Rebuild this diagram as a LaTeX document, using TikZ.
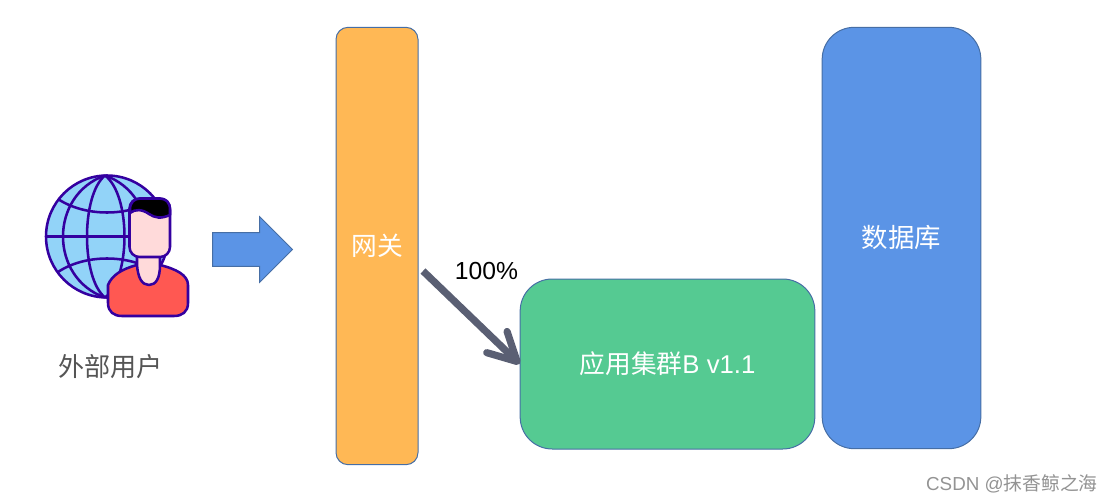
\documentclass[tikz,border=0pt]{standalone}
\usepackage{fontspec}
\setmainfont{Liberation Sans}
\newfontfamily\cjk{Noto Sans CJK SC}
\usetikzlibrary{shapes.arrows, arrows.meta, positioning}
\definecolor{gatewayorange}{RGB}{255, 184, 85}
\definecolor{appgreen}{RGB}{85, 202, 146}
\definecolor{dbblue}{RGB}{91, 148, 230}
\definecolor{edgeblue}{RGB}{70, 110, 165}
\definecolor{arrowgrey}{RGB}{90, 95, 115}
\definecolor{iconviolet}{RGB}{52, 0, 160}
\definecolor{globeblue}{RGB}{146, 211, 248}
\definecolor{skinpink}{RGB}{255, 218, 218}
\definecolor{shirtred}{RGB}{255, 88, 82}
\definecolor{labelgrey}{RGB}{85, 85, 85}
\tikzset{
    block/.style={rectangle, draw=edgeblue, text=white, line width=0.75pt, align=center, inner sep=0pt, font=\fontsize{19.3}{23}\selectfont},
    iconline/.style={draw=iconviolet, line width=1.9pt, line join=round},
    flow/.style={-{Straight Barb[round, length=21pt, width=22pt, line width=5.4pt]}, arrowgrey, line width=5.4pt}
}

\begin{document}
\begin{tikzpicture}[x=0.75pt, y=-0.75pt]
    \useasboundingbox (0,0) rectangle (1113,502);
    % blocks
    \node (gateway) [block, fill=gatewayorange, rounded corners=9pt, minimum width=61.5pt, minimum height=328pt] at (377,246) {\cjk 网关};
    \node (appb) [block, fill=appgreen, rounded corners=24pt, minimum width=221pt, minimum height=127.5pt] at (667.5,364) {{\cjk 应用集群}B v1.1};
    \node (database) [block, fill=dbblue, rounded corners=24pt, minimum width=119pt, minimum height=316pt, font=\fontsize{19.8}{23}\selectfont] at (901.5,238) {\cjk 数据库};
    % globe
    \fill[globeblue] (107,236.5) circle [radius=61];
    \draw[iconline] (105,175.5) .. controls (49,195) and (49,278) .. (105,297.5);
    \draw[iconline] (105,175.5) .. controls (81,195) and (81,278) .. (105,297.5);
    \draw[iconline] (105,175.5) .. controls (131,195) and (131,278) .. (105,297.5);
    \draw[iconline] (105,175.5) .. controls (161,195) and (161,278) .. (105,297.5);
    \draw[iconline] (46,236.5) -- (168,236.5);
    \draw[iconline] (58,199) .. controls (85,217) and (129,217) .. (156,199);
    \draw[iconline] (58,272) .. controls (85,254) and (129,254) .. (156,272);
    \draw[iconline] (107,236.5) circle [radius=61];
    % person
    \draw[iconline, fill=shirtred] (108,285) .. controls (112,275) and (122,269) .. (137,265) -- (160,265) .. controls (176,269) and (188,275) .. (188,285) -- (188,303) .. controls (188,312) and (182,316) .. (174,316) -- (122,316) .. controls (114,316) and (108,312) .. (108,303) -- cycle;
    \draw[iconline, fill=skinpink] (137,255) -- (137,265) .. controls (138,278) and (142,285) .. (149,285) .. controls (156,285) and (160,278) .. (160,265) -- (160,255) -- cycle;
    \draw[iconline, fill=skinpink, rounded corners=7.5pt] (129.5,198.5) rectangle (170,257);
    \draw[iconline, fill=black] (130,213) -- (130,210) .. controls (130,202) and (134,198.5) .. (141,198.5) -- (159,198.5) .. controls (166,198.5) and (170,202) .. (170,210) -- (170,215) .. controls (161,219) and (155,218) .. (149,214) .. controls (142,209) and (135,209) .. (130,213) -- cycle;
    \node (userlabel) [text=labelgrey, font=\fontsize{19.6}{23}\selectfont] at (110.5,367) {\cjk 外部用户};
    % arrows
    \node (inarrow) [single arrow, draw=edgeblue, fill=dbblue, line width=0.75pt, anchor=tail, inner xsep=0pt, inner ysep=12.2pt, minimum height=60pt, minimum width=49pt, single arrow head extend=12pt, single arrow tip angle=90, single arrow head indent=0pt] at (212,249.5) {};
    \coordinate (flowstart) at (423,271);
    \draw [flow] (flowstart) -- (appb.west);
    \node (percent) [font=\fontsize{18.5}{22}\selectfont] at (486.5,271) {100\%};
    \node (watermark) [text=gray!85, inner sep=0pt, font=\fontsize{14.1}{17}\selectfont, anchor=east] at (1098,484) {CSDN @{\cjk 抹香鲸之海}};
\end{tikzpicture}
\end{document}
